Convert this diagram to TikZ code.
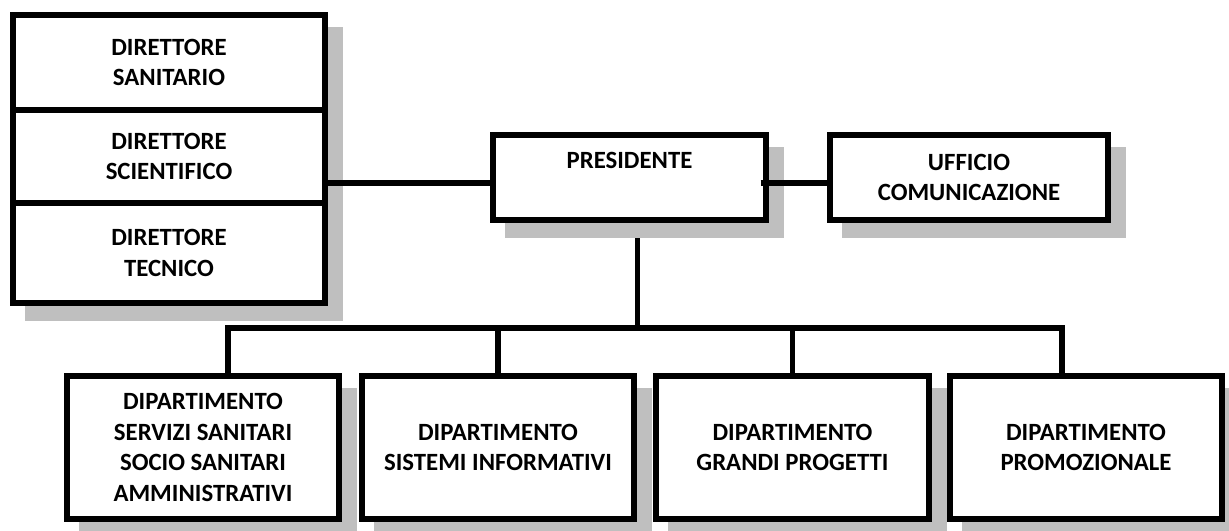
\documentclass[tikz,border=0pt]{standalone}
\usepackage{fontspec}
\setmainfont{Carlito}
\usetikzlibrary{shadows,backgrounds}

\tikzset{every picture/.style={line width=0.75pt}}
\tikzset{
  orgbox/.style={draw, line width=4.1pt, fill=white, inner sep=0pt, align=center,
    font=\bfseries\fontsize{18.6}{23}\selectfont,
    general shadow={fill=black!25, draw=black!25, line width=4.1pt,
      shadow xshift=11.25pt, shadow yshift=-11.25pt}},
  link/.style={draw, line width=4.1pt}
}

\begin{document}
\begin{tikzpicture}[x=0.75pt,y=0.75pt,yscale=-1,xscale=1]
\useasboundingbox (0,0) rectangle (1229,531);

%Shape: Rectangle [directors]
\node[orgbox, minimum width=312*0.75pt, minimum height=95*0.75pt] (dsan) at (169,62.5) {DIRETTORE\\SANITARIO};
\node[orgbox, minimum width=312*0.75pt, minimum height=93*0.75pt] (dsci) at (169,156.5) {DIRETTORE\\SCIENTIFICO};
\node[orgbox, minimum width=312*0.75pt, minimum height=100*0.75pt] (dtec) at (169,253) {DIRETTORE\\TECNICO};

%Shape: Rectangle [top row]
\node[orgbox, minimum width=273*0.75pt, minimum height=85*0.75pt, text depth=26.25pt] (pres) at (629.5,177.5) {PRESIDENTE};
\node[orgbox, minimum width=278*0.75pt, minimum height=85*0.75pt] (uff) at (969,177.5) {UFFICIO\\COMUNICAZIONE};

%Shape: Rectangle [departments]
\node[orgbox, minimum width=272*0.75pt, minimum height=143*0.75pt] (dip1) at (203,447.5) {DIPARTIMENTO\\SERVIZI SANITARI\\SOCIO SANITARI\\AMMINISTRATIVI};
\node[orgbox, minimum width=272*0.75pt, minimum height=143*0.75pt] (dip2) at (498,447.5) {DIPARTIMENTO\\SISTEMI INFORMATIVI};
\node[orgbox, minimum width=273*0.75pt, minimum height=143*0.75pt] (dip3) at (792.5,447.5) {DIPARTIMENTO\\GRANDI PROGETTI};
\node[orgbox, minimum width=272*0.75pt, minimum height=143*0.75pt] (dip4) at (1086,447.5) {DIPARTIMENTO\\PROMOZIONALE};

%Straight Lines [side links]
\coordinate (pw) at ([shift={(0,5.5)}]pres.west);
\coordinate (pe) at ([shift={(-8,5.5)}]pres.east);
\draw[link] (pw) -- (pw -| dsci.east);
\draw[link] (pe) -- (pe -| uff.west);

%Straight Lines [tree]
\coordinate (bus) at (0,328);
\coordinate (ps) at ([shift={(8,0)}]pres.south);
\coordinate (d1) at ([shift={(25,0)}]dip1.north);
\coordinate (d4) at ([shift={(-24,0)}]dip4.north);
\begin{pgfonlayer}{background}
\draw[link] (ps) -- (ps |- bus);
\end{pgfonlayer}
\draw[link] (d1) |- (d4 |- bus) -- (d4);
\draw[link] (dip2.north) -- (dip2.north |- bus);
\draw[link] (dip3.north) -- (dip3.north |- bus);

\end{tikzpicture}
\end{document}
